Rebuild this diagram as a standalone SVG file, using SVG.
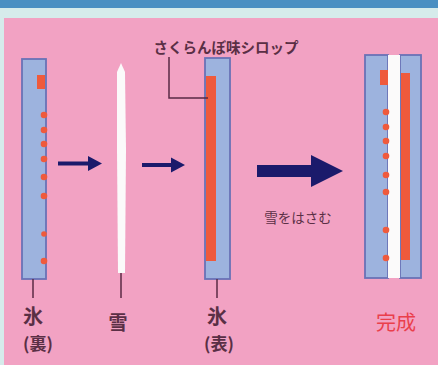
<svg xmlns="http://www.w3.org/2000/svg" width="438" height="365" viewBox="0 0 438 365">
<style>
.ice{fill:#9db3de;stroke:#6a72b6;stroke-width:1.8}
.syrup{fill:#ef5a3c}
.lead{stroke:#5a2a45;stroke-width:1.5;fill:none}
.arr{fill:#1b1a6b}
.lbl{font-family:"Noto Sans CJK JP","Noto Sans CJK SC",sans-serif;fill:#5a2f45;text-anchor:middle}
.big{font-weight:bold}
</style>
<rect x="0" y="0" width="438" height="365" fill="#d6ebeb"/>
<rect x="0" y="0" width="438" height="8" fill="#4a8fc2"/>
<rect x="4" y="18" width="434" height="347" fill="#f2a2c3"/>

<g id="ice-back">
<rect class="ice" x="22" y="59" width="24" height="220"/>
<rect class="syrup" x="37" y="75" width="8" height="14"/>
<circle class="syrup" cx="44" cy="115" r="3.3"/>
<circle class="syrup" cx="44" cy="130" r="3.3"/>
<circle class="syrup" cx="44" cy="144" r="3.3"/>
<circle class="syrup" cx="44" cy="159" r="3.3"/>
<circle class="syrup" cx="44" cy="177" r="3.3"/>
<circle class="syrup" cx="44" cy="196" r="3.3"/>
<circle class="syrup" cx="44" cy="234" r="2.8"/>
<circle class="syrup" cx="44" cy="261" r="3.3"/>
<line class="lead" x1="33" y1="279" x2="33" y2="298"/>
<text class="lbl big" x="33" y="324" font-size="20">氷</text>
<text class="lbl big" x="38" y="350" font-size="17">(裏)</text>
</g>

<g id="snow">
<path d="M121,63 L125,72 L126,150 L125,273 L118,273 L117,150 L117,72 Z" fill="#fbfafa"/>
<line class="lead" x1="121" y1="273" x2="121" y2="298"/>
<text class="lbl big" x="118" y="330" font-size="19">雪</text>
</g>

<g id="ice-front">
<rect class="ice" x="205" y="58" width="25" height="221"/>
<rect class="syrup" x="206" y="76" width="10" height="185"/>
<text class="lbl" x="226" y="53" font-size="14.5" font-weight="bold">さくらんぼ味シロップ</text>
<line class="lead" x1="217" y1="279" x2="217" y2="298"/>
<text class="lbl big" x="217" y="324" font-size="20">氷</text>
<text class="lbl big" x="219" y="350" font-size="17">(表)</text>
</g>

<g id="done">
<rect class="ice" x="365" y="55" width="23" height="223"/>
<rect class="ice" x="400" y="55" width="21" height="223"/>
<rect x="388" y="55" width="12" height="223" fill="#fbfafa"/>
<rect class="syrup" x="380" y="70" width="8" height="15"/>
<circle class="syrup" cx="386" cy="112" r="3.3"/>
<circle class="syrup" cx="386" cy="127" r="3.3"/>
<circle class="syrup" cx="386" cy="141" r="3.3"/>
<circle class="syrup" cx="386" cy="156" r="3.3"/>
<circle class="syrup" cx="386" cy="175" r="3.3"/>
<circle class="syrup" cx="386" cy="192" r="3.3"/>
<circle class="syrup" cx="386" cy="230" r="3.3"/>
<circle class="syrup" cx="386" cy="258" r="3.3"/>
<rect class="syrup" x="401" y="73" width="9" height="187"/>
<text x="396" y="330" font-size="20" text-anchor="middle" fill="#ea3f4c" font-family="Noto Sans CJK JP, sans-serif">完成</text>
</g>

<g id="connectors">
<path class="lead" d="M169,57 L169,98 L208,98"/>
<path class="arr" d="M58,161.5 L88,161.5 L88,156 L102,163.5 L88,171 L88,165.5 L58,165.5 Z"/>
<path class="arr" d="M142,163 L171,163 L171,157.5 L185,165 L171,172.5 L171,167 L142,167 Z"/>
<path class="arr" d="M257,165 L311,165 L311,155 L343,171 L311,187 L311,177 L257,177 Z"/>
<text class="lbl" x="298" y="223" font-size="13.5">雪をはさむ</text>
</g>
</svg>
